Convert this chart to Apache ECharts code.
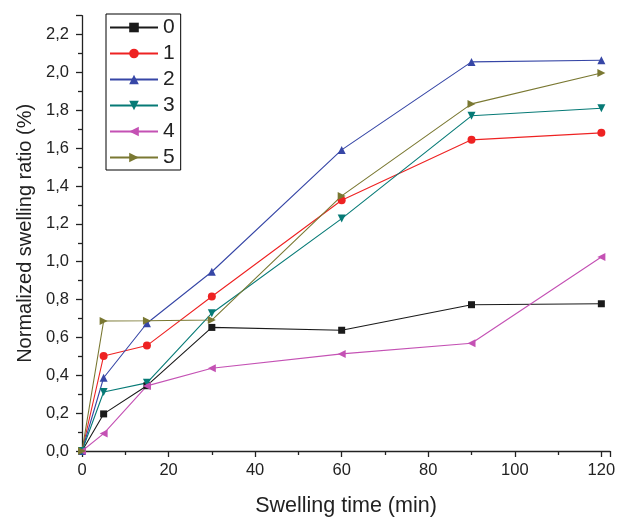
<!DOCTYPE html>
<html><head><meta charset="utf-8">
<script src="https://cdn.jsdelivr.net/npm/echarts@6/dist/echarts.min.js"></script>
<style>html,body{margin:0;padding:0;background:#fff}#c{width:619px;height:517px}</style>
</head><body><div id="c"></div>
<script>
const times = [0, 5, 15, 30, 60, 90, 120];
const s0 = [0, 0.196, 0.345, 0.653, 0.638, 0.773, 0.778];
const s1 = [0, 0.502, 0.557, 0.816, 1.325, 1.644, 1.681];
const s2 = [0, 0.387, 0.675, 0.947, 1.591, 2.056, 2.065];
const s3 = [0, 0.312, 0.360, 0.728, 1.228, 1.771, 1.811];
const s4 = [0, 0.092, 0.344, 0.437, 0.513, 0.569, 1.025];
const s5 = [0, 0.687, 0.688, 0.692, 1.348, 1.834, 1.997];
const names = ['0','1','2','3','4','5'];
const colors = ['#1a1a1a','#ee2222','#3646a6','#067a76','#c451b4','#7a7832'];
const symbols = ['rect','circle','triangle','triangle','triangle','triangle'];
const rotates = [0,0,0,180,90,-90];
const sizes = [7,8,8,8,8,8];
const all = [s0,s1,s2,s3,s4,s5];
const font = "'Liberation Sans', Arial, sans-serif";
const chart = echarts.init(document.getElementById('c'));
chart.setOption({
  animation:false,
  grid:{left:82,right:9,top:15.7,bottom:66,containLabel:false,outerBoundsMode:'none'},
  legend:{
    orient:'vertical', left:106, top:14,
    borderColor:'#000', borderWidth:1, padding:[3,6,2,3],
    itemWidth:48, itemHeight:12, itemGap:5,
    textStyle:{fontFamily:font,fontSize:21,color:'#222',lineHeight:21},
    data:names
  },
  xAxis:{
    type:'value', min:0, max:122, interval:20,
    name:'Swelling time (min)', nameLocation:'middle', nameGap:44,
    nameTextStyle:{fontFamily:font,fontSize:21.5,color:'#222'},
    axisLine:{lineStyle:{color:'#222',width:1.3}},
    axisTick:{show:true,length:6,lineStyle:{color:'#222',width:1.3}},
    minorTick:{show:true,splitNumber:2,length:4,lineStyle:{color:'#222',width:1.3}},
    splitLine:{show:false},
    axisLabel:{fontFamily:font,fontSize:16.5,color:'#222',margin:11,showMaxLabel:false}
  },
  yAxis:{
    type:'value', min:0, max:2.3, interval:0.2,
    name:'Normalized swelling ratio (%)', nameLocation:'middle', nameGap:46,
    nameTextStyle:{fontFamily:font,fontSize:20,color:'#222'},
    axisLine:{show:true,lineStyle:{color:'#222',width:1.3}},
    axisTick:{show:true,length:6,lineStyle:{color:'#222',width:1.3}},
    minorTick:{show:true,splitNumber:2,length:4,lineStyle:{color:'#222',width:1.3}},
    splitLine:{show:false},
    axisLabel:{fontFamily:font,fontSize:16.5,color:'#222',margin:13,showMaxLabel:false,
      formatter:v=>v.toFixed(1).replace('.',',')}
  },
  series: all.map((d,i)=>({
    name:names[i], type:'line',
    data: times.map((t,j)=>[t,d[j]]),
    symbol:symbols[i], symbolRotate:rotates[i], symbolSize:sizes[i],
    showAllSymbol:true,
    lineStyle:{color:colors[i],width:1.1},
    itemStyle:{color:colors[i]},
    emphasis:{disabled:true}
  }))
});
</script></body></html>
